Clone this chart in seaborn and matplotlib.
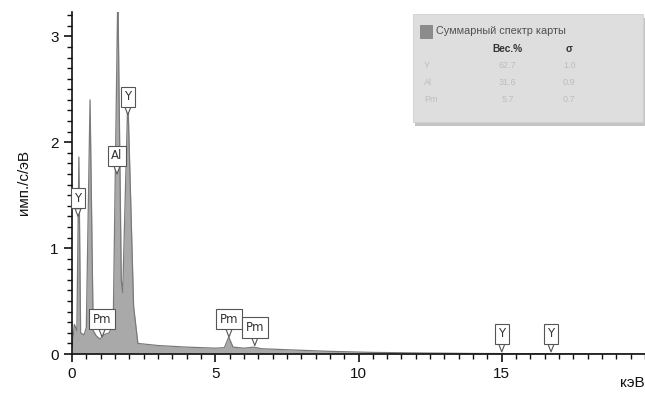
import matplotlib
matplotlib.use("Agg")
import matplotlib.pyplot as plt
import seaborn as sns
import pandas as pd
from matplotlib.patches import Rectangle
from matplotlib.ticker import MultipleLocator

sns.set_style("ticks")
plt.rcParams["font.family"] = ["Liberation Sans", "DejaVu Sans"]

# спектр (кэВ, имп./с/эВ)
kev = [0.00, 0.08, 0.17, 0.24, 0.30, 0.42, 0.50, 0.63, 0.74, 0.85, 0.98,
       1.10, 1.30, 1.44, 1.60, 1.72, 1.77, 1.95, 2.15, 2.30, 3.00, 4.00,
       5.00, 5.32, 5.47, 5.62, 6.00, 6.35, 6.60, 7.50, 9.00, 10.50, 12.00,
       14.00, 16.00, 18.00, 20.00]
counts = [0.05, 0.28, 0.22, 1.86, 0.20, 0.18, 0.25, 2.40, 0.22, 0.17, 0.14,
          0.18, 0.20, 0.30, 3.45, 0.70, 0.58, 2.42, 0.45, 0.10, 0.08, 0.065,
          0.055, 0.06, 0.16, 0.065, 0.055, 0.065, 0.05, 0.04, 0.025, 0.015, 0.01,
          0.005, 0.003, 0.002, 0.0]

# метки линий
line_names = ["Y", "Pm", "Al", "Y", "Pm", "Pm", "Y", "Y"]
line_kev = [0.21, 1.05, 1.57, 1.95, 5.48, 6.38, 15.0, 16.72]
line_tip = [1.30, 0.16, 1.70, 2.26, 0.16, 0.08, 0.02, 0.02]

# таблица легенды
elements = ["Y", "Al", "Pm"]
wt_pct = ["62.7", "31.6", "5.7"]
sigma = ["1.0", "0.9", "0.7"]

df = pd.DataFrame({"kev": kev, "counts": counts})

fig = plt.figure(figsize=(6.45, 3.93), dpi=100)
ax = fig.add_axes([72 / 645, 1 - 354 / 393, 573 / 645, 342 / 393])

ax.fill_between(df["kev"], df["counts"], color="#a9a9a9", lw=0)
sns.lineplot(data=df, x="kev", y="counts", ax=ax, color="#7a7a7a", lw=0.9)

ax.set_xlim(0, 20)
ax.set_ylim(0, 3.23)
ax.set_xticks([0, 5, 10, 15])
ax.set_yticks([0, 1, 2, 3])
ax.xaxis.set_minor_locator(MultipleLocator(0.5))
ax.yaxis.set_minor_locator(MultipleLocator(0.1))
ax.tick_params(which="major", length=6, width=1.2, labelsize=11, colors="#111111")
ax.tick_params(which="minor", length=3.5, width=1.0, colors="#111111")
for s in ["top", "right"]:
    ax.spines[s].set_visible(False)
for s in ["left", "bottom"]:
    ax.spines[s].set_linewidth(1.2)
    ax.spines[s].set_color("#111111")

ax.set_xlabel("")
ax.set_ylabel("имп./с/эВ", fontsize=11, color="#111111", labelpad=14)
ax.text(1.0, -0.085, "кэВ", transform=ax.transAxes, ha="right", va="center",
        fontsize=11, color="#111111")

for name, x, tip in zip(line_names, line_kev, line_tip):
    ax.annotate(name, xy=(x, tip), xytext=(0, 13), textcoords="offset points",
                ha="center", va="center", fontsize=8.5, color="#333333",
                family=["DejaVu Sans"],
                bbox=dict(boxstyle="square,pad=0.3", fc="white", ec="#555555", lw=0.8),
                arrowprops=dict(arrowstyle="wedge,tail_width=0.5,shrink_factor=0.5",
                                fc="white", ec="#555555", lw=0.8,
                                shrinkA=0, shrinkB=0))

# легенда-таблица
lx0, ly0, lw_, lh = 0.595, 0.678, 0.402, 0.316
ax.add_patch(Rectangle((lx0 + 0.004, ly0 - 0.012), lw_, lh, transform=ax.transAxes,
                       fc="#c4c4c4", ec="none", zorder=5, clip_on=False))
ax.add_patch(Rectangle((lx0, ly0), lw_, lh, transform=ax.transAxes,
                       fc="#dedede", ec="#cfcfcf", lw=0.6, zorder=6, clip_on=False))
ax.add_patch(Rectangle((0.607, 0.925), 0.021, 0.036, transform=ax.transAxes,
                       fc="#8c8c8c", ec="#7a7a7a", lw=0.5, zorder=7))
ax.text(0.636, 0.943, "Суммарный спектр карты", transform=ax.transAxes,
        fontsize=7.8, color="#505050", va="center", zorder=7)
ax.text(0.760, 0.893, "Вес.%", transform=ax.transAxes, fontsize=7.3, weight="bold",
        color="#333333", ha="center", va="center", zorder=7)
ax.text(0.868, 0.893, "σ", transform=ax.transAxes, fontsize=7.3, weight="bold",
        color="#333333", ha="center", va="center", zorder=7)
for i, (el, w, s) in enumerate(zip(elements, wt_pct, sigma)):
    yy = 0.843 - i * 0.05
    ax.text(0.614, yy, el, transform=ax.transAxes, fontsize=6.5, color="#bdbdbd",
            va="center", zorder=7)
    ax.text(0.760, yy, w, transform=ax.transAxes, fontsize=6.5, color="#bdbdbd",
            ha="center", va="center", zorder=7)
    ax.text(0.868, yy, s, transform=ax.transAxes, fontsize=6.5, color="#bdbdbd",
            ha="center", va="center", zorder=7)

fig.savefig("out.png", dpi=100)
